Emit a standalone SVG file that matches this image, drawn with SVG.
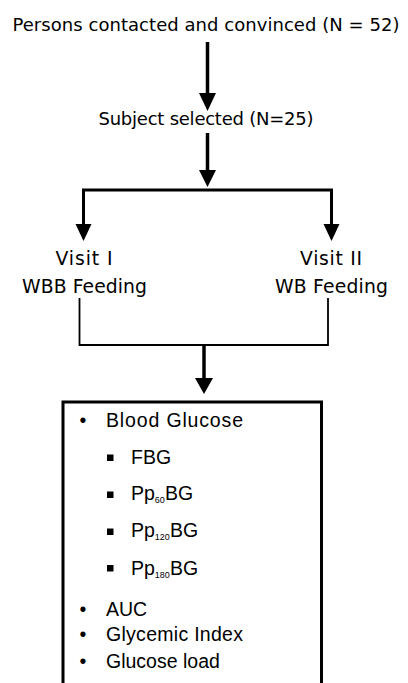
<svg xmlns="http://www.w3.org/2000/svg" width="408" height="683" viewBox="0 0 408 683">
<defs>
<style>
.t{font-family:"DejaVu Sans","Liberation Sans",sans-serif;font-size:18px;fill:#000}
.v{font-size:18.8px}
.b{font-family:"Liberation Sans",Arial,sans-serif;font-size:19.5px;fill:#000}
.sub{font-size:9px}
.thick{stroke:#000;stroke-width:3.5;fill:none}
.mid{stroke:#000;stroke-width:3;fill:none}
.thin{stroke:#000;stroke-width:1.8;fill:none}
.head{fill:#000}
</style>
</defs>
<rect width="408" height="683" fill="#fff"/>
<g id="node-persons"><text class="t" x="206" y="30.5" text-anchor="middle" textLength="387">Persons contacted and convinced (N = 52)</text></g>
<g id="node-subject"><text class="t" x="206" y="125" text-anchor="middle" textLength="215">Subject selected (N=25)</text></g>
<g id="node-visit1">
<text class="t v" x="84" y="265" text-anchor="middle" textLength="57">Visit I</text>
<text class="t v" x="84.5" y="293" text-anchor="middle" textLength="125">WBB Feeding</text>
</g>
<g id="node-visit2">
<text class="t v" x="331" y="265" text-anchor="middle" textLength="62">Visit II</text>
<text class="t v" x="331.5" y="293" text-anchor="middle" textLength="113">WB Feeding</text>
</g>
<g id="node-outcomes">
<path class="mid" d="M63,683 V402 H321.5 V683"/>
<text class="b" x="83" y="427" text-anchor="middle">•</text>
<text class="b" x="106" y="427" font-size="20" textLength="137">Blood Glucose</text>
<rect x="107" y="454.5" width="6.5" height="6.5"/>
<text class="b" x="131" y="464" font-size="19">FBG</text>
<rect x="107" y="491.5" width="6.5" height="6.5"/>
<text class="b" x="131" y="500" font-size="19">Pp<tspan class="sub" dy="3">60</tspan><tspan dy="-3">BG</tspan></text>
<rect x="107" y="528.5" width="6.5" height="6.5"/>
<text class="b" x="131" y="537" font-size="19">Pp<tspan class="sub" dy="3">120</tspan><tspan dy="-3">BG</tspan></text>
<rect x="107" y="565" width="6.5" height="6.5"/>
<text class="b" x="131" y="575" font-size="19">Pp<tspan class="sub" dy="3">180</tspan><tspan dy="-3">BG</tspan></text>
<text class="b" x="83" y="616" text-anchor="middle">•</text>
<text class="b" x="106" y="616" font-size="20">AUC</text>
<text class="b" x="83" y="641" text-anchor="middle">•</text>
<text class="b" x="106" y="641" textLength="137">Glycemic Index</text>
<text class="b" x="83" y="668" text-anchor="middle">•</text>
<text class="b" x="106" y="668">Glucose load</text>
</g>
<g id="connectors">
<line class="thick" x1="207.5" y1="42" x2="207.5" y2="94"/>
<polygon class="head" points="199,93 216,93 207.5,111"/>
<line class="thick" x1="207.5" y1="133" x2="207.5" y2="171"/>
<polygon class="head" points="199,170 216,170 207.5,187"/>
<path class="mid" d="M83.5,225 V190 H331.5 V225"/>
<polygon class="head" points="75.5,224 91.5,224 83.5,241"/>
<polygon class="head" points="323.5,224 339.5,224 331.5,241"/>
<path class="thin" d="M79.5,298 V345 H328 V298"/>
<line class="thick" x1="204" y1="345" x2="204" y2="379"/>
<polygon class="head" points="195,378 213,378 204,394"/>
</g>
</svg>
